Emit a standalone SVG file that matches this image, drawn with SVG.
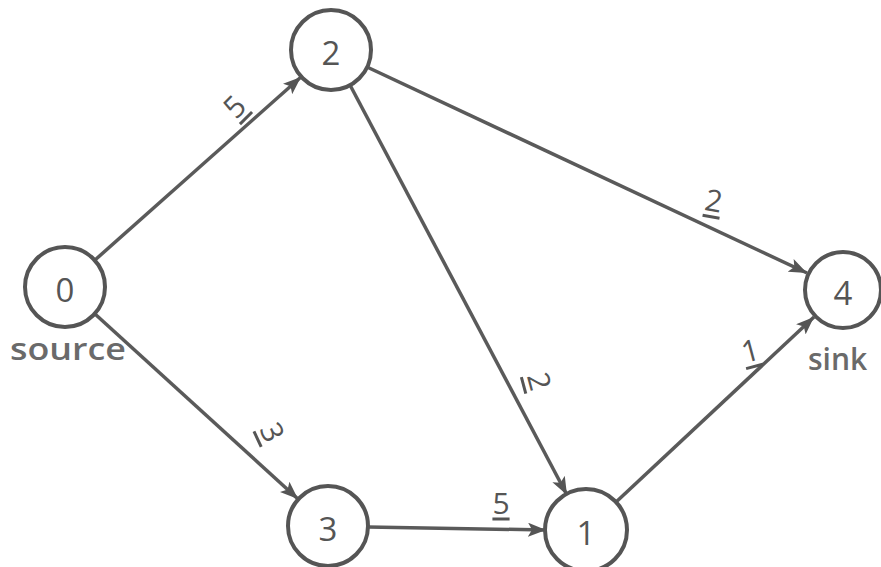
<svg xmlns="http://www.w3.org/2000/svg" width="881" height="567" viewBox="0 0 881 567">
<style>
.node circle{fill:none;stroke:#555;stroke-width:4}
.node text{font-family:"Open Sans","Liberation Sans",sans-serif;font-size:33px;fill:#555;text-anchor:middle;dominant-baseline:central}
.edge{stroke:#5a5a5a;stroke-width:3.5;fill:none;marker-end:url(#arr)}
.lbl{font-family:"Open Sans","Liberation Sans",sans-serif;font-size:30px;fill:#555;text-anchor:middle;dominant-baseline:central;text-decoration:underline}
.cap{font-family:"Open Sans","Liberation Sans",sans-serif;font-size:30px;font-weight:600;fill:#6a6a6a}
</style>
<defs>
<marker id="arr" markerUnits="userSpaceOnUse" markerWidth="20" markerHeight="14" refX="18" refY="7" orient="auto">
<path d="M0,0 L18,7 L0,14 L4,7 z" fill="#555"/>
</marker>
</defs>
<rect width="881" height="567" fill="#fff"/>
<g id="connectors">
<line class="edge" x1="95" y1="260" x2="301" y2="77"/>
<line class="edge" x1="367" y1="67" x2="807" y2="273"/>
<line class="edge" x1="350" y1="85" x2="567" y2="495"/>
<line class="edge" x1="95" y1="314" x2="298" y2="499"/>
<line class="edge" x1="368" y1="527" x2="546" y2="530"/>
<line class="edge" x1="615" y1="503" x2="814" y2="317"/>
<text class="lbl" transform="translate(234,106) rotate(-45)">5</text>
<text class="lbl" transform="translate(714,200) rotate(10)">2</text>
<text class="lbl" transform="translate(540,381) rotate(75)">2</text>
<text class="lbl" transform="translate(273,432) rotate(65)">3</text>
<text class="lbl" transform="translate(750,350) rotate(-15)">1</text>
<text class="lbl" transform="translate(501,502)">5</text>
</g>
<g id="node0" class="node"><circle cx="65" cy="287" r="40"/><text x="65" y="289">0</text></g>
<g id="node2" class="node"><circle cx="331" cy="50" r="40"/><text x="331" y="52">2</text></g>
<g id="node4" class="node"><circle cx="843" cy="290" r="38"/><text x="843" y="292">4</text></g>
<g id="node3" class="node"><circle cx="328" cy="526" r="40"/><text x="328" y="528">3</text></g>
<g id="node1" class="node"><circle cx="586" cy="530" r="41"/><text x="586" y="532">1</text></g>
<text class="cap" x="10" y="360" textLength="116" lengthAdjust="spacingAndGlyphs">source</text>
<text class="cap" x="808" y="370">sink</text>
</svg>
